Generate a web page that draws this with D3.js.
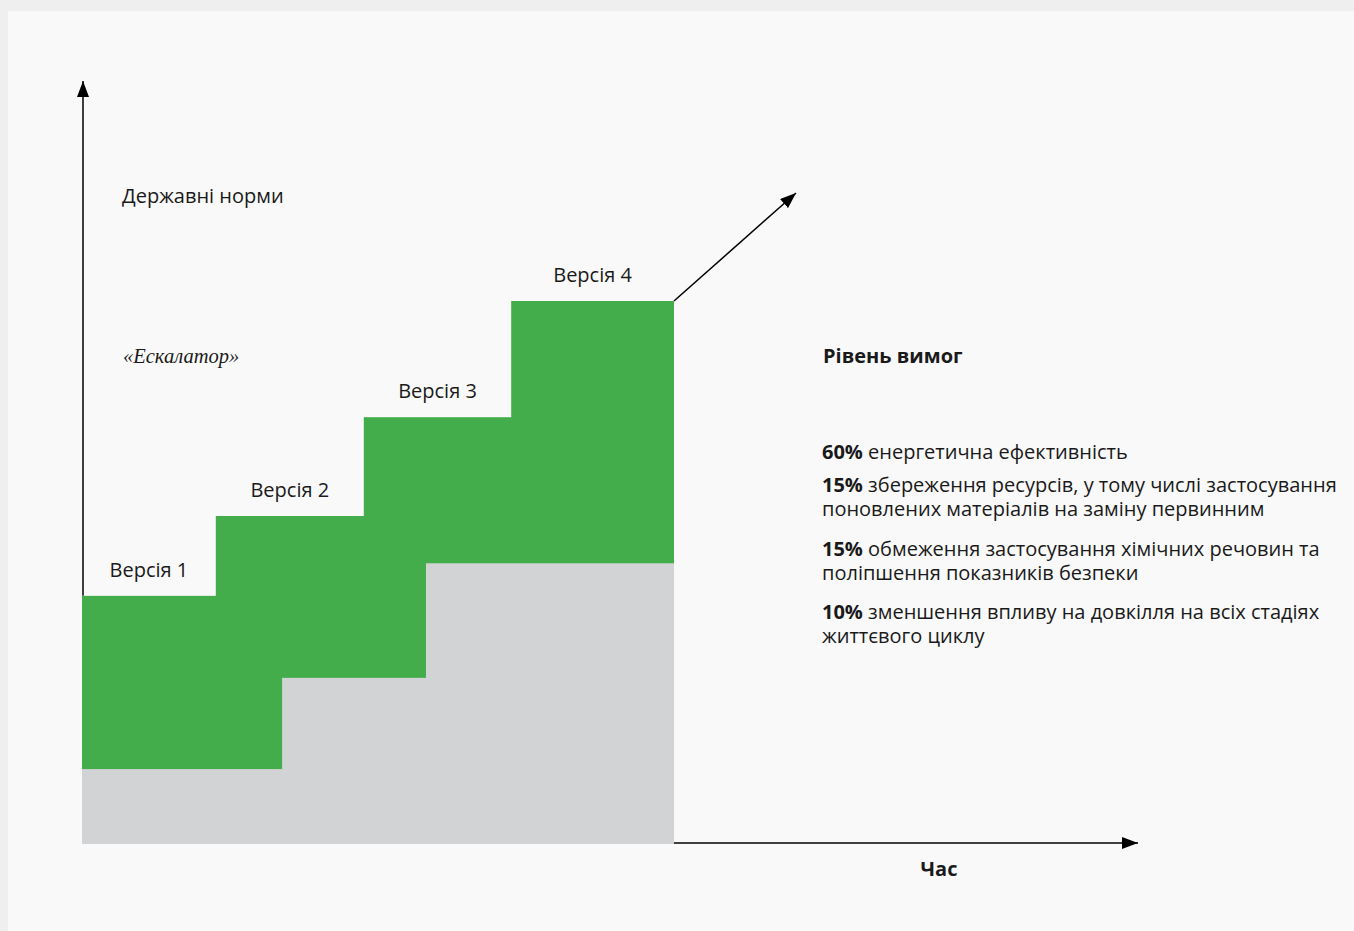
<!DOCTYPE html>
<html>
<head>
<meta charset="utf-8">
<script src="https://cdn.jsdelivr.net/npm/d3@7"></script>
<style>
  html, body { margin: 0; padding: 0; background: #efefef; }
  svg { display: block; }
</style>
</head>
<body>
<script>
// ---- data ----
const versions = ["Версія 1", "Версія 2", "Версія 3", "Версія 4"];
const versionStart = [0, 22.6, 47.6, 72.5];      // time when version takes effect
const requirementLevel = [45.7, 60.4, 78.6, 100]; // level of requirements (green)
const baseStart = [0, 33.8, 58.1];                // time for state norms steps
const baseLevel = [13.8, 30.6, 51.7];              // state norms level (grey)
const timeEnd = 100;

const shares = ["60%", "15%", "15%", "10%"];
const shareTexts = [
  ["енергетична ефективність"],
  ["збереження ресурсів, у тому числі застосування", "поновлених матеріалів на заміну первинним"],
  ["обмеження застосування хімічних речовин та", "поліпшення показників безпеки"],
  ["зменшення впливу на довкілля на всіх стадіях", "життєвого циклу"]
];
const titleLeft = "Державні норми";
const subtitleLeft = "«Ескалатор»";
const titleRight = "Рівень вимог";
const xAxisLabel = "Час";

// ---- layout ----
const W = 1354, H = 931;
const green = "#43ad4b", grey = "#d1d3d4", ink = "#1a1a1a";
const font = "'Open Sans', 'Noto Sans', sans-serif";
const fs = 20;

const svg = d3.select("body").append("svg").attr("width", W).attr("height", H);
svg.append("rect").attr("x", 8).attr("y", 11).attr("width", W - 8).attr("height", H - 11).attr("fill", "#f9f9f9");

const x = d3.scaleLinear().domain([0, timeEnd]).range([82, 674]);
const y = d3.scaleLinear().domain([0, 100]).range([844, 301]);

const defs = svg.append("defs");
defs.append("marker").attr("id", "arr").attr("viewBox", "0 0 16 12")
  .attr("refX", 16).attr("refY", 6).attr("markerWidth", 16).attr("markerHeight", 12)
  .attr("markerUnits", "userSpaceOnUse").attr("orient", "auto")
  .append("path").attr("d", "M0,0 L16,6 L0,12 Z").attr("fill", "#000");

// y axis arrow
svg.append("line").attr("x1", x(0) + 1).attr("y1", y(requirementLevel[0]))
  .attr("x2", x(0) + 1).attr("y2", 81)
  .attr("stroke", "#000").attr("stroke-width", 1.5).attr("marker-end", "url(#arr)");

// x axis arrow
svg.append("line").attr("x1", x(0)).attr("y1", 843).attr("x2", 1138).attr("y2", 843)
  .attr("stroke", "#000").attr("stroke-width", 1.5).attr("marker-end", "url(#arr)");

// green steps
svg.append("g").selectAll("rect").data(versions).join("rect")
  .attr("x", (d, i) => x(versionStart[i]))
  .attr("y", (d, i) => y(requirementLevel[i]))
  .attr("width", (d, i) => x(timeEnd) - x(versionStart[i]))
  .attr("height", (d, i) => y(0) - y(requirementLevel[i]))
  .attr("fill", green);

// grey steps
svg.append("g").selectAll("rect").data(baseLevel).join("rect")
  .attr("x", (d, i) => x(baseStart[i]))
  .attr("y", d => y(d))
  .attr("width", (d, i) => x(timeEnd) - x(baseStart[i]))
  .attr("height", d => y(0) - y(d))
  .attr("fill", grey);

// version labels
svg.append("g").selectAll("text").data(versions).join("text")
  .attr("x", (d, i) => (x(versionStart[i]) + x(i < versions.length - 1 ? versionStart[i + 1] : timeEnd)) / 2)
  .attr("y", (d, i) => y(requirementLevel[i]) - 19)
  .attr("text-anchor", "middle")
  .attr("font-family", font).attr("font-size", fs).attr("fill", ink)
  .text(d => d);

// diagonal arrow
svg.append("line").attr("x1", x(timeEnd)).attr("y1", y(requirementLevel[3]))
  .attr("x2", 796).attr("y2", 193)
  .attr("stroke", "#000").attr("stroke-width", 1.5).attr("marker-end", "url(#arr)");

// left texts
svg.append("text").attr("x", 122).attr("y", 203)
  .attr("font-family", font).attr("font-size", fs).attr("fill", ink).text(titleLeft);
svg.append("text").attr("x", 123).attr("y", 363)
  .attr("font-family", "'Liberation Serif', serif").attr("font-style", "italic")
  .attr("font-size", 20.5).attr("fill", ink).text(subtitleLeft);

// right texts
svg.append("text").attr("x", 823).attr("y", 363)
  .attr("font-family", font).attr("font-weight", "bold").attr("font-size", fs).attr("fill", ink).text(titleRight);

const itemY = [459, 492, 556, 619];
const lineH = 24;
shares.forEach((s, i) => {
  const t = svg.append("text").attr("x", 822).attr("y", itemY[i])
    .attr("font-family", font).attr("font-size", fs).attr("fill", ink);
  shareTexts[i].forEach((line, j) => {
    if (j === 0) {
      t.append("tspan").attr("font-weight", "bold").text(s);
      t.append("tspan").text(" " + line);
    } else {
      t.append("tspan").attr("x", 822).attr("dy", lineH).text(line);
    }
  });
});

svg.append("text").attr("x", 939).attr("y", 876).attr("text-anchor", "middle")
  .attr("font-family", font).attr("font-weight", "bold").attr("font-size", fs).attr("fill", ink).text(xAxisLabel);
</script>
</body>
</html>
